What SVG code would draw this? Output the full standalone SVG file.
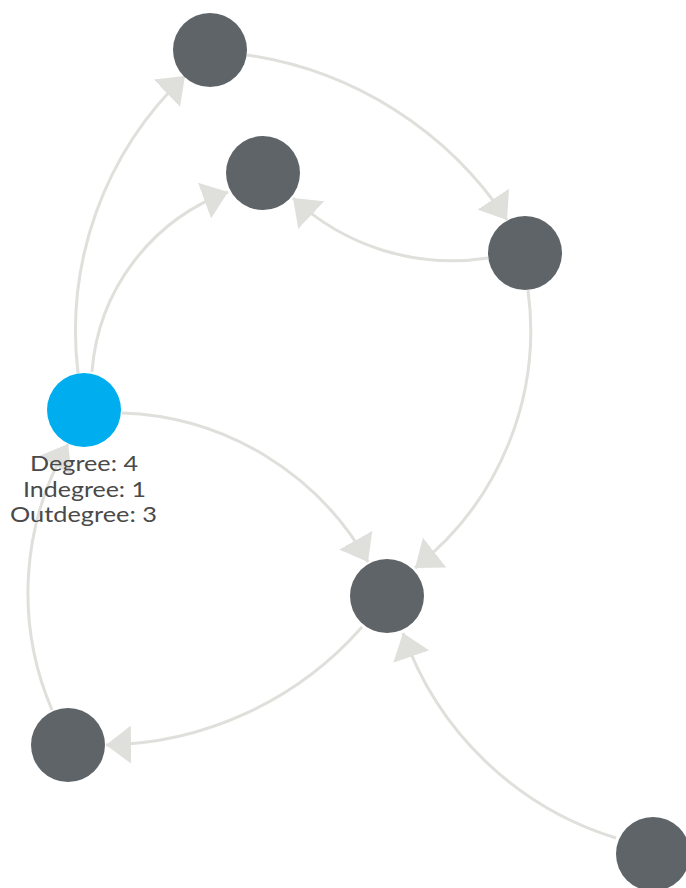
<svg xmlns="http://www.w3.org/2000/svg" width="686" height="888" viewBox="0 0 686 888">
<style>
.edge{fill:none;stroke:#dfdfdb;stroke-width:3;marker-end:url(#arr)}
.node{fill:#5f6468}
.sel{fill:#00aeef}
.lbl{font-family:"Lato","Open Sans",sans-serif;font-size:21px;fill:#4a4a4a;text-anchor:middle}
</style>
<defs>
<marker id="arr" markerUnits="userSpaceOnUse" markerWidth="26" markerHeight="38" refX="25" refY="19" orient="auto" viewBox="0 0 26 38">
<path d="M0,0 L25,19 L0,38 Z" fill="#dfdfdb"/>
</marker>
</defs>
<rect width="686" height="888" fill="#ffffff"/>
<g id="connectors">
<path class="edge" d="M78,373 A352,352 0 0,1 185,76"/>
<path class="edge" d="M92,372 A208,208 0 0,1 228,192"/>
<path class="edge" d="M247,55 A377,377 0 0,1 507,220"/>
<path class="edge" d="M488,258 A233,233 0 0,1 293,198"/>
<path class="edge" d="M528,290 A302,302 0 0,1 415,568"/>
<path class="edge" d="M122,413 A293,293 0 0,1 368,562"/>
<path class="edge" d="M362,627 A347,347 0 0,1 106,745"/>
<path class="edge" d="M52,710 A297,297 0 0,1 68,444"/>
<path class="edge" d="M616,838 A327,327 0 0,1 403,633"/>
</g>
<g id="nodeA"><circle class="node" cx="210" cy="50" r="37"/></g>
<g id="nodeB"><circle class="node" cx="263" cy="173" r="37"/></g>
<g id="nodeC"><circle class="node" cx="525" cy="253" r="37"/></g>
<g id="nodeD">
<circle class="sel" cx="84" cy="410" r="37"/>
<text class="lbl" x="84" y="471" textLength="108" lengthAdjust="spacingAndGlyphs">Degree: 4</text>
<text class="lbl" x="84.5" y="497" textLength="123" lengthAdjust="spacingAndGlyphs">Indegree: 1</text>
<text class="lbl" x="83.5" y="522" textLength="147" lengthAdjust="spacingAndGlyphs">Outdegree: 3</text>
</g>
<g id="nodeE"><circle class="node" cx="387" cy="596" r="37"/></g>
<g id="nodeF"><circle class="node" cx="68" cy="745" r="37"/></g>
<g id="nodeG"><circle class="node" cx="653" cy="854" r="37"/></g>
</svg>
